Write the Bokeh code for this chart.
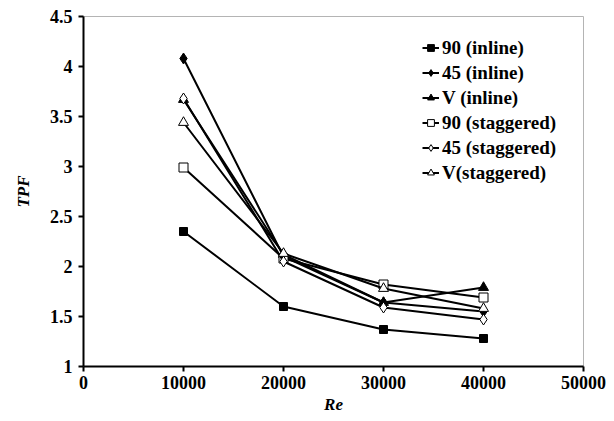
from bokeh.plotting import figure
from bokeh.models import Range1d, FixedTicker, Legend, LegendItem
from bokeh.embed import file_html
from bokeh.resources import INLINE

# ---- data ----
re_values = [10000, 20000, 30000, 40000]
tpf_90_inline = [2.35, 1.60, 1.37, 1.28]
tpf_45_inline = [4.08, 2.10, 1.64, 1.55]
tpf_v_inline = [3.67, 2.12, 1.64, 1.79]
tpf_90_staggered = [2.99, 2.08, 1.82, 1.69]
tpf_45_staggered = [3.68, 2.05, 1.59, 1.47]
tpf_v_staggered = [3.44, 2.13, 1.78, 1.58]

series_names = ["90 (inline)", "45 (inline)", "V (inline)",
                "90 (staggered)", "45 (staggered)", "V(staggered)"]

x_ticks = [0, 10000, 20000, 30000, 40000, 50000]
x_tick_labels = ["0", "10000", "20000", "30000", "40000", "50000"]
y_ticks = [1, 1.5, 2, 2.5, 3, 3.5, 4, 4.5]
y_tick_labels = ["1", "1.5", "2", "2.5", "3", "3.5", "4", "4.5"]

FONT = "Liberation Serif"

p = figure(width=614, height=421, output_backend="svg", toolbar_location=None,
           x_range=Range1d(0, 50000), y_range=Range1d(1, 4.5),
           min_border_left=83, min_border_right=31, min_border_top=16,
           min_border_bottom=55)
p.background_fill_color = "white"
p.border_fill_color = "white"
p.outline_line_color = "#b4b4b4"
p.outline_line_width = 1
p.xgrid.visible = False
p.ygrid.visible = False

for ax in (p.xaxis[0], p.yaxis[0]):
    ax.axis_line_color = "black"
    ax.axis_line_width = 2
    ax.major_tick_line_color = "black"
    ax.major_tick_line_width = 2
    ax.major_tick_out = 5
    ax.major_tick_in = 0
    ax.minor_tick_line_color = None
    ax.major_label_text_font = FONT
    ax.major_label_text_font_style = "bold"
    ax.major_label_text_font_size = "18px"
    ax.major_label_text_color = "black"
    ax.axis_label_text_font = FONT
    ax.axis_label_text_font_style = "bold italic"
    ax.axis_label_text_font_size = "17px"
    ax.axis_label_text_color = "black"

p.xaxis.ticker = FixedTicker(ticks=x_ticks)
p.xaxis.major_label_overrides = dict(zip(x_ticks, x_tick_labels))
p.yaxis.ticker = FixedTicker(ticks=y_ticks)
p.yaxis.major_label_overrides = dict(zip(y_ticks, y_tick_labels))
p.xaxis.axis_label = "Re"
p.yaxis.axis_label = "TPF"
p.xaxis.major_label_standoff = 4
p.xaxis.axis_label_standoff = 3
p.yaxis.major_label_standoff = 6
p.yaxis.axis_label_standoff = 14

series = [
    (tpf_90_inline, "square", "black", 8),
    (tpf_45_inline, "diamond", "black", 11),
    (tpf_v_inline, "triangle", "black", 10),
    (tpf_90_staggered, "square", "white", 9),
    (tpf_45_staggered, "diamond", "white", 11),
    (tpf_v_staggered, "triangle", "white", 10),
]

items = []
for (vals, marker, fill, size), name in zip(series, series_names):
    ln = p.line(re_values, vals, line_color="black", line_width=2)
    sc = p.scatter(re_values, vals, marker=marker, size=size,
                   fill_color=fill, line_color="black", line_width=1)
    items.append(LegendItem(label=name, renderers=[ln, sc]))

legend = Legend(items=items, location=(339, 181))
legend.border_line_color = None
legend.background_fill_alpha = 0
legend.padding = 0
legend.margin = 0
legend.spacing = 0
legend.glyph_width = 17
legend.glyph_height = 25
legend.label_height = 25
legend.label_standoff = 3
legend.label_text_font = FONT
legend.label_text_font_style = "bold"
legend.label_text_font_size = "19px"
legend.label_text_color = "black"
p.add_layout(legend)

open("out.html", "w").write(file_html(p, INLINE))
